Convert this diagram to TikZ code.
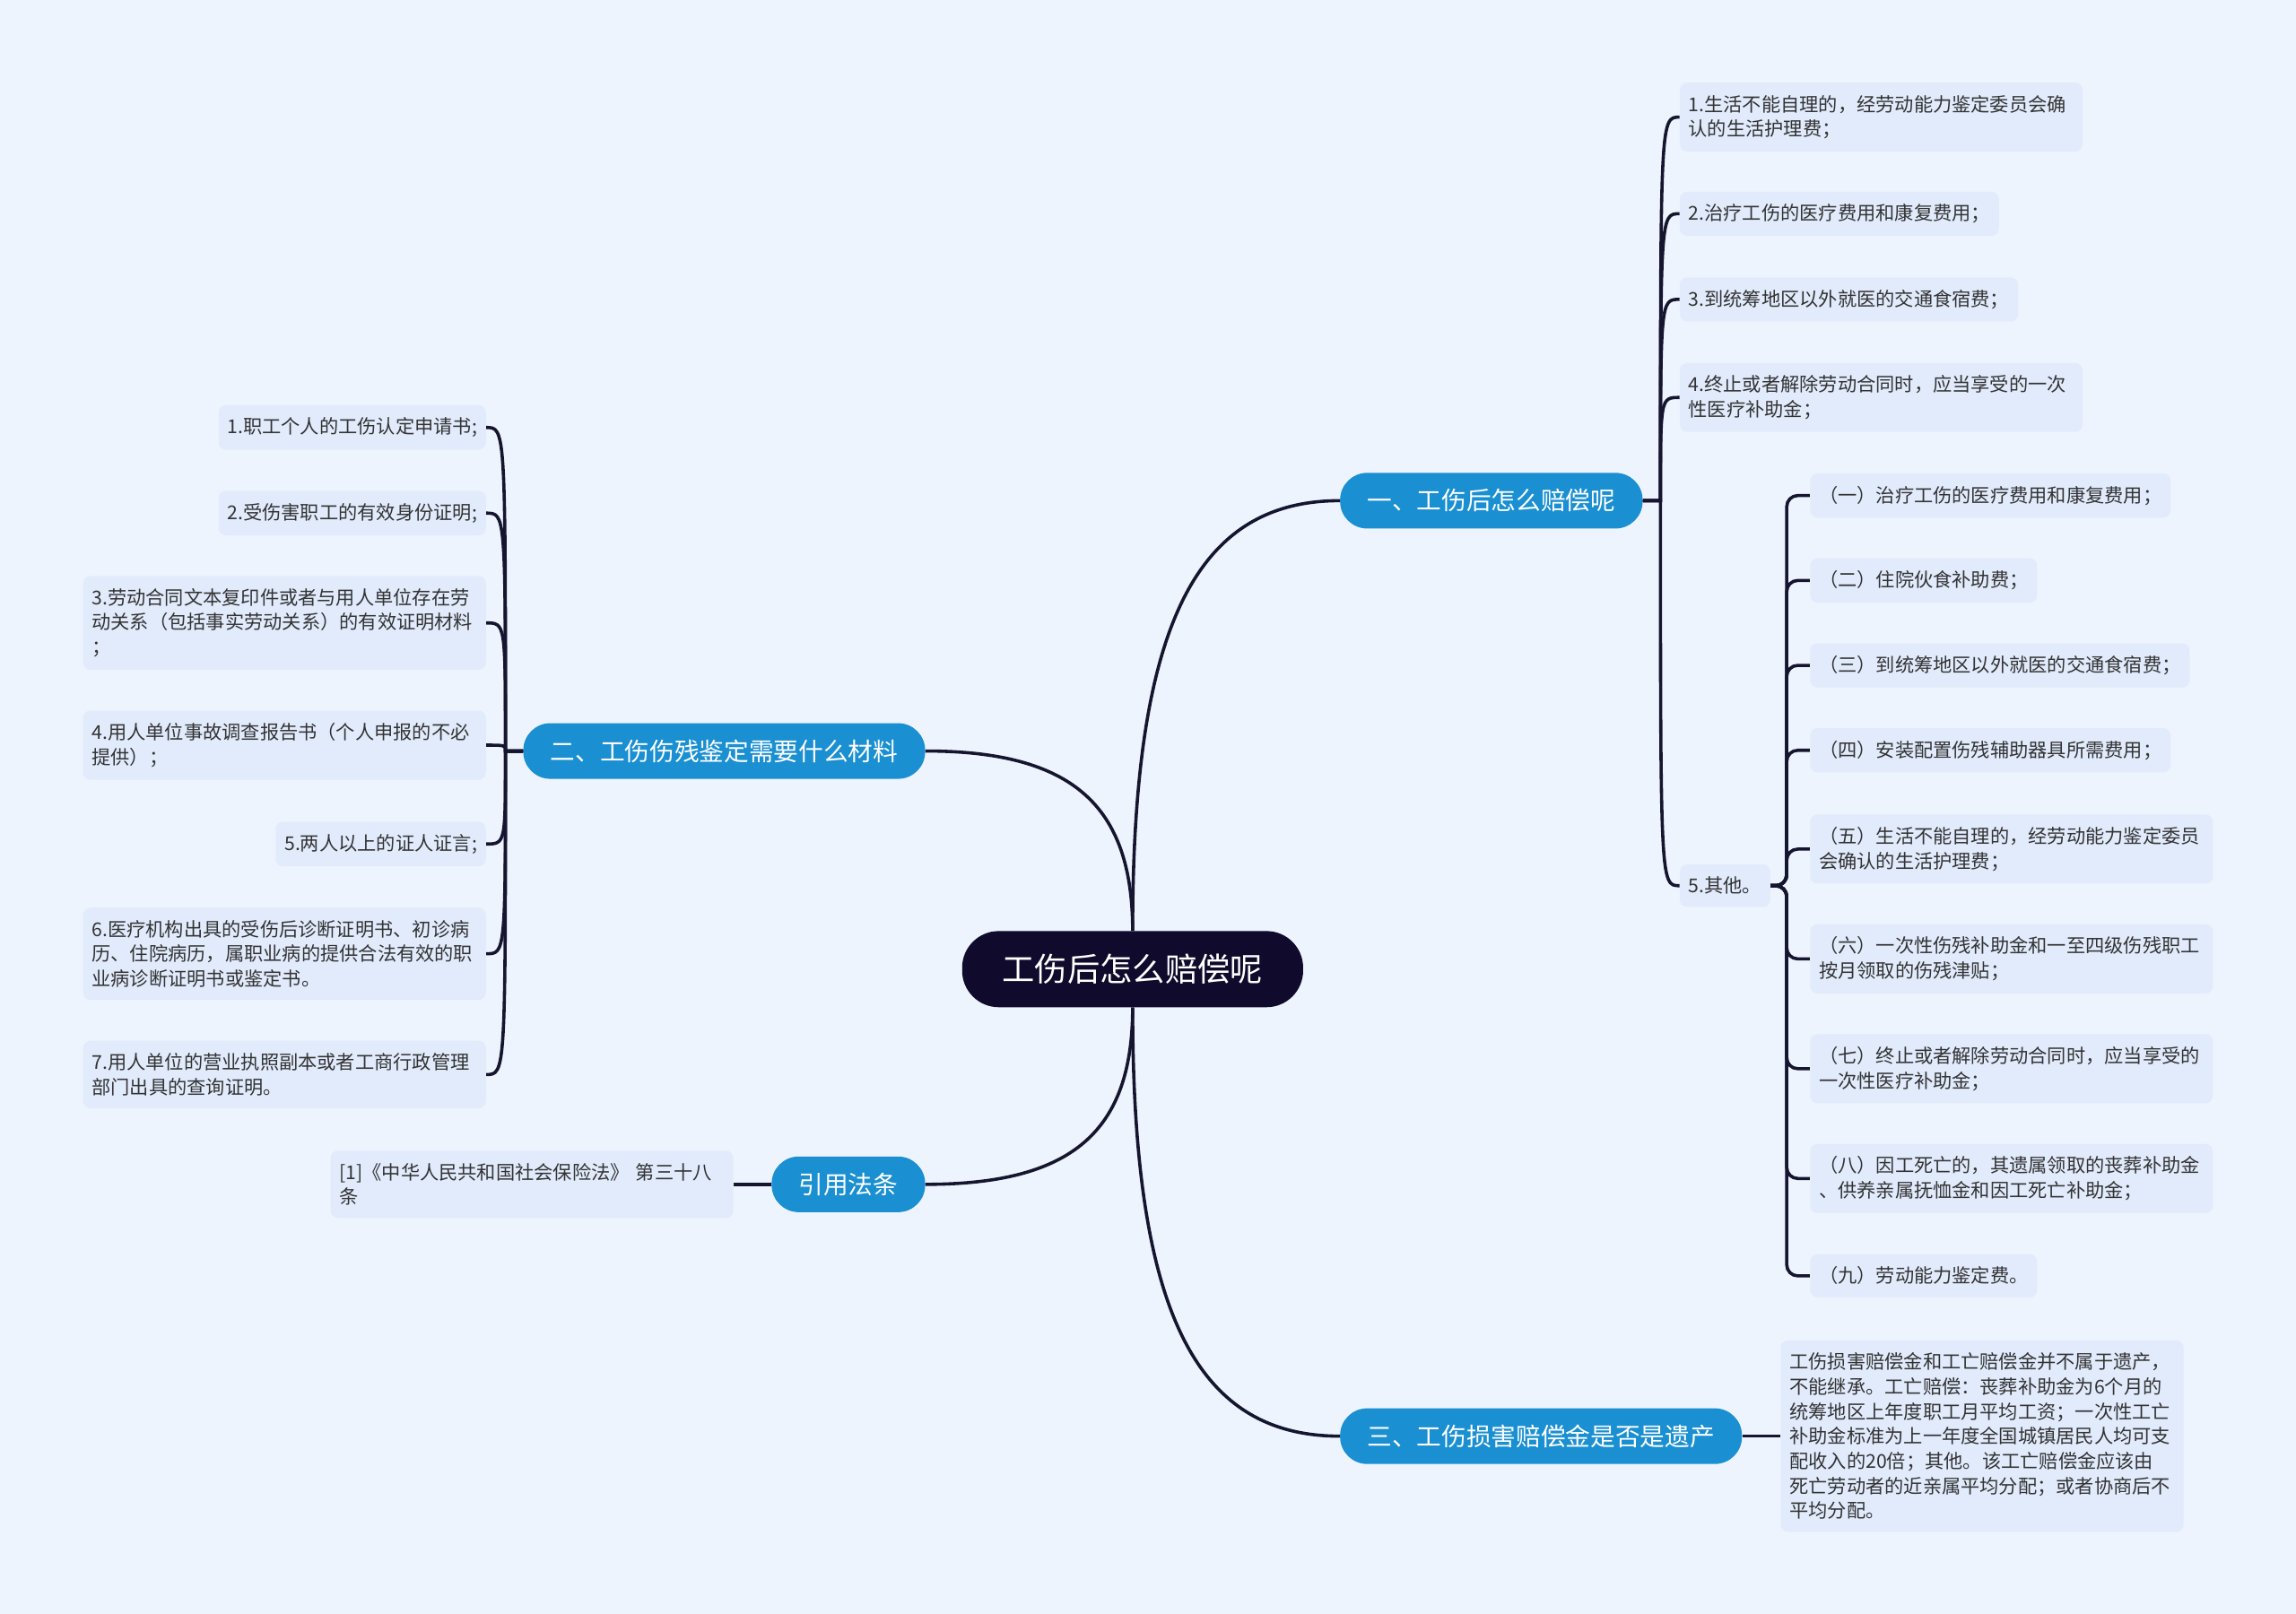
\documentclass[tikz,border=0pt]{standalone}
\usepackage{fontspec}
\setmainfont{Noto Sans CJK SC}
\usepackage{tikz}

\definecolor{hintergrund}{HTML}{EEF4FE}
\definecolor{wurzelfarbe}{HTML}{100A2C}
\definecolor{astfarbe}{HTML}{1A8FD1}
\definecolor{blattfarbe}{HTML}{E1EBFC}
\definecolor{linienfarbe}{HTML}{16152F}
\definecolor{schrift}{HTML}{333333}

\tikzset{
    wurzelbox/.style={fill=wurzelfarbe, text=white, rounded corners=1cm, minimum height=2.08cm, inner xsep=1.1cm, font=\fontsize{25.3pt}{30pt}\selectfont},
    astbox/.style={fill=astfarbe, text=white, rounded corners=0.74cm, minimum height=1.52cm, inner xsep=0.74cm, font=\fontsize{19.3pt}{23pt}\selectfont},
    blattbox/.style={fill=blattfarbe, text=schrift, rounded corners=0.2cm, minimum height=1.16cm, inner xsep=0.24cm, inner ysep=0.34cm, font=\fontsize{14.8pt}{19.3pt}\selectfont},
    breit/.style={text width=10.52cm, align=left},
    linienzug/.style={draw=linienfarbe, line width=2.5pt},
}

\begin{document}
\begin{tikzpicture}[x=0.04cm, y=-0.04cm]
    % Hintergrund.
    \fill[hintergrund] (0,0) rectangle (1568,1102.5);
    \useasboundingbox (0,0) rectangle (1568,1102.5);

    % Hauptknoten.
    \node[wurzelbox] (haupt) at (773.5,662) {工伤后怎么赔偿呢};

    % Äste.
    \node[astbox, anchor=west] (a1) at (915,342) {一、工伤后怎么赔偿呢};
    \node[astbox, anchor=east] (a2) at (632,513) {二、工伤伤残鉴定需要什么材料};
    \node[astbox, anchor=east] (a3) at (632,809) {引用法条};
    \node[astbox, anchor=west] (a4) at (915,981) {三、工伤损害赔偿金是否是遗产};

    % Blätter rechts oben.
    \node[blattbox, breit, anchor=west] (r1) at (1147,80) {1.生活不能自理的，经劳动能力鉴定委员会确\\认的生活护理费；};
    \node[blattbox, anchor=west] (r2) at (1147,146) {2.治疗工伤的医疗费用和康复费用；};
    \node[blattbox, anchor=west] (r3) at (1147,204.5) {3.到统筹地区以外就医的交通食宿费；};
    \node[blattbox, breit, anchor=west] (r4) at (1147,271.5) {4.终止或者解除劳动合同时，应当享受的一次\\性医疗补助金；};
    \node[blattbox, anchor=west] (r5) at (1147,605) {5.其他。};

    % Unterpunkte von 5.
    \node[blattbox, anchor=west] (s1) at (1236,338.5) {（一）治疗工伤的医疗费用和康复费用；};
    \node[blattbox, anchor=west] (s2) at (1236,396.5) {（二）住院伙食补助费；};
    \node[blattbox, anchor=west] (s3) at (1236,454.5) {（三）到统筹地区以外就医的交通食宿费；};
    \node[blattbox, anchor=west] (s4) at (1236,512.5) {（四）安装配置伤残辅助器具所需费用；};
    \node[blattbox, breit, anchor=west] (s5) at (1236,580) {（五）生活不能自理的，经劳动能力鉴定委员\\会确认的生活护理费；};
    \node[blattbox, breit, anchor=west] (s6) at (1236,655) {（六）一次性伤残补助金和一至四级伤残职工\\按月领取的伤残津贴；};
    \node[blattbox, breit, anchor=west] (s7) at (1236,730) {（七）终止或者解除劳动合同时，应当享受的\\一次性医疗补助金；};
    \node[blattbox, breit, anchor=west] (s8) at (1236,805) {（八）因工死亡的，其遗属领取的丧葬补助金\\、供养亲属抚恤金和因工死亡补助金；};
    \node[blattbox, anchor=west] (s9) at (1236,871.5) {（九）劳动能力鉴定费。};

    % Blätter links.
    \node[blattbox, anchor=east] (l1) at (332,292) {1.职工个人的工伤认定申请书;};
    \node[blattbox, anchor=east] (l2) at (332,350.5) {2.受伤害职工的有效身份证明;};
    \node[blattbox, breit, anchor=east] (l3) at (332,425.5) {3.劳动合同文本复印件或者与用人单位存在劳\\动关系（包括事实劳动关系）的有效证明材料\\；};
    \node[blattbox, breit, anchor=east] (l4) at (332,509) {4.用人单位事故调查报告书（个人申报的不必\\提供）；};
    \node[blattbox, anchor=east] (l5) at (332,576.5) {5.两人以上的证人证言;};
    \node[blattbox, breit, anchor=east] (l6) at (332,651.5) {6.医疗机构出具的受伤后诊断证明书、初诊病\\历、住院病历，属职业病的提供合法有效的职\\业病诊断证明书或鉴定书。};
    \node[blattbox, breit, anchor=east] (l7) at (332,734) {7.用人单位的营业执照副本或者工商行政管理\\部门出具的查询证明。};

    % Gesetz und Erbe.
    \node[blattbox, breit, anchor=east] (g1) at (501,809) {[1]《中华人民共和国社会保险法》 第三十八\\条};
    \node[blattbox, breit, anchor=west] (e1) at (1216,981) {工伤损害赔偿金和工亡赔偿金并不属于遗产，\\不能继承。工亡赔偿：丧葬补助金为6个月的\\统筹地区上年度职工月平均工资；一次性工亡\\补助金标准为上一年度全国城镇居民人均可支\\配收入的20倍；其他。该工亡赔偿金应该由\\死亡劳动者的近亲属平均分配；或者协商后不\\平均分配。};

    % Verbindungen vom Hauptknoten.
    \draw[linienzug] (haupt.north) .. controls +(0,-205) and +(-100,0) .. (a1.west);
    \draw[linienzug] (haupt.north) .. controls +(0,-86) and +(100,0) .. (a2.east);
    \draw[linienzug] (haupt.south) .. controls +(0,85) and +(100,0) .. (a3.east);
    \draw[linienzug] (haupt.south) .. controls +(0,205) and +(-100,0) .. (a4.west);

    % Verbindungen der Äste.
    \path (a1.east) ++(12,0) coordinate (h1);
    \foreach \i in {1,...,5}
    {
        \draw[linienzug] (a1.east) -- (h1) .. controls (h1 |- r\i.west) .. (r\i.west);
    }
    \path (r5.east) ++(11,0) coordinate (h5);
    \foreach \i in {1,...,9}
    {
        \draw[linienzug, rounded corners=0.3cm] (r5.east) -- (h5) |- (s\i.west);
    }
    \path (a2.west) ++(-12,0) coordinate (h2);
    \foreach \i in {1,...,7}
    {
        \draw[linienzug] (a2.west) -- (h2) .. controls (h2 |- l\i.east) .. (l\i.east);
    }
    \draw[linienzug] (a3.west) -- (g1.east);
    \draw[linienzug] (a4.east) -- (e1.west);
\end{tikzpicture}
\end{document}
